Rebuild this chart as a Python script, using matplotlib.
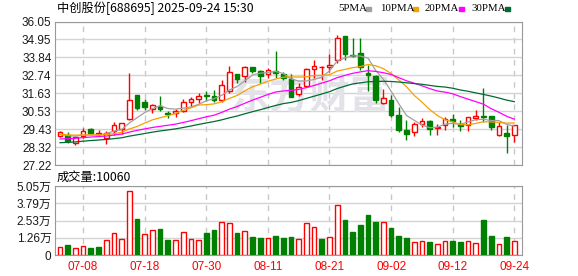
import matplotlib
matplotlib.use('Agg')
import matplotlib.pyplot as plt
from matplotlib.patches import Rectangle
import numpy as np
import pandas as pd

plt.rcParams['font.family'] = ['Liberation Sans', 'Noto Sans CJK SC']

W, H = 578, 276

title = '中创股份[688695] 2025-09-24 15:30'
dates = pd.bdate_range('2025-07-03', '2025-09-24')
date_ticks = ['07-08', '07-18', '07-30', '08-11', '08-21', '09-02', '09-12', '09-24']

opens = [29.02, 29.05, 28.58, 29.03, 29.44, 29.14, 28.86, 29.33, 29.45, 30.03,
         31.53, 31.10, 30.65, 30.83, 30.43, 30.40, 30.56, 31.08, 31.28, 31.55,
         31.47, 31.22, 31.77, 32.82, 32.70, 33.23, 33.00, 32.82, 33.00, 32.80,
         32.49, 31.59, 32.08, 33.15, 33.25, 33.27, 33.68, 35.16, 34.00, 34.13,
         32.90, 32.70, 31.02, 31.22, 30.30, 29.37, 29.27, 29.72, 29.93, 29.50,
         29.68, 30.05, 29.72, 29.68, 30.13, 30.22, 30.24, 29.05, 29.17, 29.05]
highs = [29.30, 29.25, 29.00, 29.48, 29.47, 29.35, 29.30, 29.88, 29.82, 32.86,
         31.55, 31.26, 30.96, 31.45, 30.56, 30.68, 31.26, 31.39, 31.63, 31.77,
         31.83, 32.45, 33.31, 32.85, 33.31, 33.25, 33.05, 33.17, 34.23, 32.93,
         32.82, 32.28, 33.17, 33.68, 33.31, 34.05, 35.22, 35.16, 35.02, 35.02,
         33.37, 32.76, 31.88, 31.53, 30.77, 29.99, 29.88, 30.09, 29.99, 29.72,
         30.16, 30.34, 29.99, 30.16, 30.60, 31.94, 30.24, 29.88, 29.68, 29.66]
lows = [28.95, 28.60, 28.45, 28.86, 29.12, 29.05, 28.52, 29.07, 29.13, 29.99,
        30.60, 30.60, 30.40, 30.56, 30.10, 30.19, 30.50, 30.81, 31.02, 31.18,
        31.12, 31.12, 31.63, 32.25, 32.35, 32.90, 32.28, 32.56, 32.56, 32.45,
        31.39, 31.47, 32.04, 32.56, 32.45, 32.96, 33.48, 33.68, 33.88, 33.07,
        31.79, 31.02, 30.96, 30.19, 29.27, 28.76, 29.00, 29.54, 29.07, 29.07,
        29.37, 29.58, 29.33, 29.33, 29.99, 29.88, 29.37, 29.00, 27.98, 28.65]
closes = [29.22, 28.68, 28.92, 29.33, 29.17, 29.15, 29.21, 29.66, 29.79, 31.22,
          30.75, 30.81, 30.89, 30.65, 30.38, 30.56, 31.10, 31.26, 31.47, 31.45,
          31.22, 32.14, 32.92, 32.49, 33.23, 33.02, 32.70, 33.07, 32.88, 32.56,
          31.42, 32.00, 33.11, 33.31, 33.28, 33.37, 35.02, 34.05, 33.95, 33.23,
          32.74, 31.22, 31.33, 30.30, 29.37, 29.13, 29.72, 29.93, 29.42, 29.55,
          30.05, 29.95, 29.64, 30.16, 30.24, 30.18, 29.58, 29.60, 29.02, 29.66]
volumes = [5600, 7100, 4900, 6800, 5100, 5900, 10700, 15900, 11500, 46600,
           26100, 15100, 18100, 19000, 11000, 10700, 16600, 11500, 11000, 16100,
           18300, 23900, 23400, 16100, 17300, 13200, 12400, 12200, 13900, 12400,
           13200, 11500, 23400, 20300, 11700, 12900, 36600, 25600, 17100, 22000,
           29300, 24200, 24200, 19800, 13900, 12400, 9500, 10200, 9500, 7800,
           10200, 10200, 9500, 10200, 8800, 25600, 13900, 8100, 13200, 10060]

# closes before the visible window, only used to start the moving averages
prior_closes = [28.00, 28.10, 27.95, 28.05, 28.20, 28.10, 28.15, 28.25, 28.20, 28.30,
                28.35, 28.40, 28.50, 28.45, 28.60, 28.55, 28.50, 28.60, 28.70, 28.65,
                29.00, 29.15, 29.20, 29.10, 29.15, 29.05, 29.10, 29.00, 29.15]

price_ticks = [27.22, 28.32, 29.43, 30.53, 31.63, 32.74, 33.84, 34.95, 36.05]
vol_ticks = [0, 12625, 25250, 37875, 50500]
vol_tick_labels = ['0', '1.26万', '2.53万', '3.79万', '5.05万']
legend_labels = ['5PMA', '10PMA', '20PMA', '30PMA']
ma_periods = [5, 10, 20, 30]
ma_colors = ['#a0a0a0', '#f5a100', '#ff00ff', '#006b33']

RED = '#ff0000'
GREEN = '#008000'

fig = plt.figure(figsize=(W / 100, H / 100), dpi=100)
ax = fig.add_axes([55 / W, 1 - 165 / H, 467.3 / W, 143.5 / H])
axv = fig.add_axes([55 / W, 1 - 255 / H, 467.3 / W, 69 / H])

x = np.arange(len(closes))
tick_pos = [list(dates.strftime('%m-%d')).index(d) for d in date_ticks]
bw = 0.62

# candles
for i in x:
    o, h, l, c = opens[i], highs[i], lows[i], closes[i]
    col = RED if c >= o else GREEN
    ax.vlines(i, l, h, color=col, lw=1, zorder=3)
    body = max(abs(c - o), 0.02)
    ax.add_patch(Rectangle((i - bw / 2, min(o, c)), bw, body,
                           facecolor='white' if c > o else col,
                           edgecolor=col, lw=1, zorder=4))

# moving averages
allc = pd.Series(prior_closes + closes)
for p, col in zip(ma_periods, ma_colors):
    ma = allc.rolling(p).mean().iloc[len(prior_closes):].values
    ax.plot(x, ma, color=col, lw=0.9, zorder=5)

# volume bars
prev = [closes[0]] + closes[:-1]
for i in x:
    up = closes[i] >= prev[i]
    col = RED if up else GREEN
    axv.add_patch(Rectangle((i - bw / 2, 0), bw, volumes[i],
                            facecolor='white' if up else col,
                            edgecolor=col, lw=1, zorder=3))

# watermark
ax.text(310 / W, 1 - 97 / H, '东方财富', transform=fig.transFigure,
        fontsize=29, fontweight='bold', color='#e2e2e8', ha='center',
        va='center', family=['Noto Sans CJK SC'], zorder=1)

for a in (ax, axv):
    a.set_xlim(-0.65, 60.04)
    a.set_xticks(tick_pos)
    a.xaxis.grid(True, color='#c8c8c8', lw=1, ls=(0, (4, 4)))
    a.yaxis.grid(True, color='#d4d4d4', lw=1)
    a.set_axisbelow(True)
    for s in a.spines.values():
        s.set_color('#999999')
    a.tick_params(length=0, labelsize=8.5, labelcolor='#1a1a1a', pad=2.5)

ax.set_ylim(price_ticks[0], price_ticks[-1])
ax.set_yticks(price_ticks)
ax.set_yticklabels([f'{v:.2f}' for v in price_ticks])
ax.set_xticklabels([])

axv.set_ylim(0, vol_ticks[-1])
axv.set_yticks(vol_ticks)
axv.set_yticklabels(vol_tick_labels)
axv.set_xticklabels(date_ticks)
axv.tick_params(axis='x', labelcolor=RED, pad=4)

fig.text(57 / W, 1 - 8.5 / H, title, fontsize=8.8, va='center',
         family=['Noto Sans CJK SC'])
fig.text(57 / W, 1 - 177.5 / H, '成交量:' + str(volumes[-1]), fontsize=8.8,
         va='center', family=['Noto Sans CJK SC'])

# legend
text_x = [338, 380, 425, 471.5]
box_x = [366, 413, 459, 505]
for lab, tx, bx, col in zip(legend_labels, text_x, box_x, ma_colors):
    fig.text(tx / W, 1 - 8.5 / H, lab, fontsize=7.8, va='center',
             family=['Liberation Serif'])
    fig.patches.append(Rectangle((bx / W, 1 - 10.5 / H), 5 / W, 4 / H,
                                 transform=fig.transFigure, color=col))

fig.savefig('out.png', dpi=100)
